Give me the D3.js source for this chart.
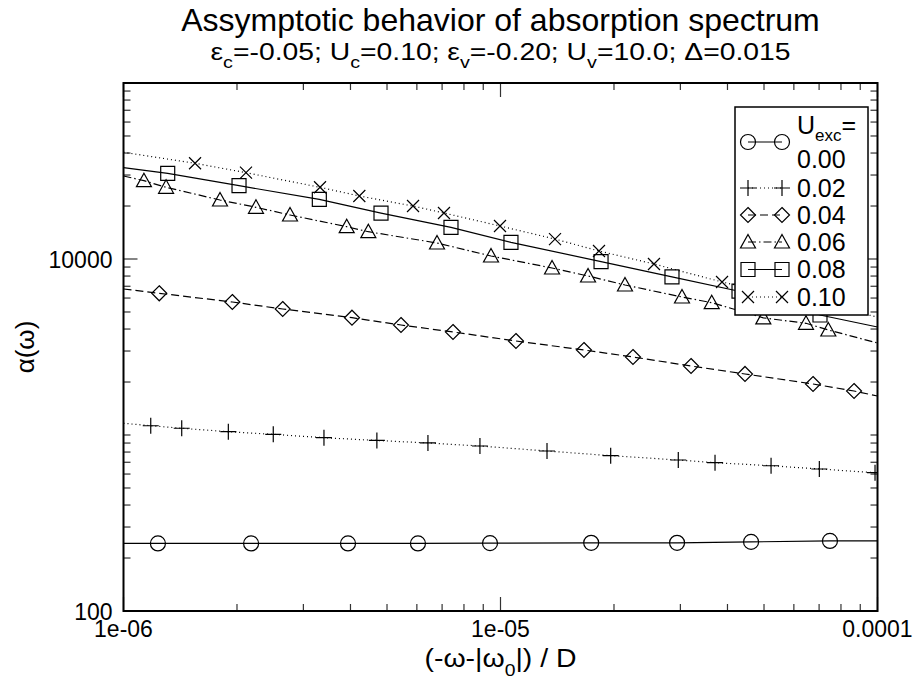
<!DOCTYPE html>
<html>
<head>
<meta charset="utf-8">
<script src="https://cdn.jsdelivr.net/npm/d3@7"></script>
<style>
  body { margin: 0; background: #fff; }
  svg { display: block; font-family: "Liberation Sans", Arial, sans-serif; }
</style>
</head>
<body>
<div id="chart"></div>
<script>
// tick labels
const xTickValues = [1e-6, 1e-5, 1e-4];
const xTickLabels = ["1e-06", "1e-05", "0.0001"];
const yTickValues = [100, 10000];
const yTickLabels = ["100", "10000"];
const legendLabels = ["0.00", "0.02", "0.04", "0.06", "0.08", "0.10"];

// U_exc = 0.00 (first and last points are the line ends, no symbol there)
const x000 = [1e-6, 1.234e-6, 2.18e-6, 3.94e-6, 6.04e-6, 9.38e-6, 1.74e-5, 2.94e-5, 4.62e-5, 7.48e-5, 1e-4];
const y000 = [242, 242, 242, 242, 242, 243, 244, 244, 247, 250, 250];
// U_exc = 0.02
const x002 = [1e-6, 1.181e-6, 1.427e-6, 1.897e-6, 2.496e-6, 3.402e-6, 4.70e-6, 6.42e-6, 8.82e-6, 1.3285e-5, 1.960e-5, 2.962e-5, 3.707e-5, 5.22e-5, 7.01e-5, 9.85e-5, 1e-4];
const y002 = [1166, 1129, 1092, 1044, 1009, 965, 931, 901, 866, 811, 763, 721, 696, 669, 641, 611, 608];
// U_exc = 0.04
const x004 = [1e-6, 1.244e-6, 1.944e-6, 2.644e-6, 4.037e-6, 5.446e-6, 7.482e-6, 1.099e-5, 1.665e-5, 2.246e-5, 3.202e-5, 4.452e-5, 6.745e-5, 8.665e-5, 1e-4];
const y004 = [6753, 6386, 5698, 5198, 4639, 4217, 3848, 3421, 3041, 2775, 2466, 2222, 1949, 1778, 1666];
// U_exc = 0.06
const x006 = [1e-6, 1.133e-6, 1.297e-6, 1.803e-6, 2.246e-6, 2.765e-6, 3.909e-6, 4.461e-6, 6.786e-6, 9.437e-6, 1.370e-5, 1.707e-5, 2.139e-5, 3.030e-5, 3.633e-5, 4.979e-5, 6.462e-5, 7.405e-5, 1e-4];
const y006 = [29620, 27860, 25550, 21640, 19670, 17780, 15260, 14290, 12330, 10400, 8890, 8008, 7118, 6083, 5645, 4630, 4312, 3951, 3332];
// U_exc = 0.08
const x008 = [1e-6, 1.310e-6, 2.025e-6, 3.307e-6, 4.820e-6, 7.390e-6, 1.066e-5, 1.848e-5, 2.850e-5, 4.292e-5, 7.038e-5, 1e-4];
const y008 = [33020, 30690, 26090, 21840, 18240, 15110, 12420, 9670, 7920, 6560, 4806, 4108];
// U_exc = 0.10
const x010 = [1e-6, 1.548e-6, 2.113e-6, 3.321e-6, 4.222e-6, 5.861e-6, 7.081e-6, 9.969e-6, 1.395e-5, 1.825e-5, 2.553e-5, 3.869e-5, 1e-4];
const y010 = [40400, 34980, 30930, 25550, 22800, 20000, 18250, 15400, 12980, 11100, 9367, 7401, 4682];

const seriesX = [x000, x002, x004, x006, x008, x010];
const seriesY = [y000, y002, y004, y006, y008, y010];

// styles
const symbols = ["circle", "plus", "diamond", "triangle", "square", "times"];
const dashes = [null, "1,3", "8,4", "8,3,1.5,3", null, "1,3"];

const width = 921;
const height = 684;
const margin = {top: 83, right: 43.5, bottom: 73, left: 123.5};

const svg = d3.select("#chart").append("svg")
    .attr("width", width)
    .attr("height", height)
    .attr("viewBox", [0, 0, width, height]);

const xScale = d3.scaleLog().domain([1e-6, 1e-4]).range([margin.left, width - margin.right]);
const yScale = d3.scaleLog().domain([100, 100000]).range([height - margin.bottom, margin.top]);

function symbolPath(type) {
    switch (type) {
        case "circle": return "M-7.5,0A7.5,7.5 0 1,0 7.5,0A7.5,7.5 0 1,0 -7.5,0Z";
        case "plus": return "M-8,0H8M0,-8V8";
        case "diamond": return "M0,-7.5L7.5,0L0,7.5L-7.5,0Z";
        case "triangle": return "M0,-7.5L7.5,6L-7.5,6Z";
        case "square": return "M-7,-7H7V7H-7Z";
        case "times": return "M-6,-6L6,6M-6,6L6,-6";
    }
}

svg.append("defs").append("clipPath").attr("id", "plot")
    .append("rect")
    .attr("x", margin.left).attr("y", margin.top)
    .attr("width", width - margin.left - margin.right)
    .attr("height", height - margin.top - margin.bottom);

// ticks, inside on all four sides
const xMinor = xScale.ticks();
const yMinor = yScale.ticks();
const ticks = svg.append("g").attr("stroke", "#333").attr("stroke-width", 1.2);
xMinor.forEach(v => {
    const major = xTickValues.some(t => Math.abs(t / v - 1) < 1e-6);
    const len = major ? 14 : 7;
    const px = xScale(v);
    ticks.append("line").attr("x1", px).attr("x2", px)
        .attr("y1", height - margin.bottom).attr("y2", height - margin.bottom - len);
    ticks.append("line").attr("x1", px).attr("x2", px)
        .attr("y1", margin.top).attr("y2", margin.top + len);
});
yMinor.forEach(v => {
    const major = yTickValues.some(t => Math.abs(t / v - 1) < 1e-6);
    const len = major ? 14 : 7;
    const py = yScale(v);
    ticks.append("line").attr("y1", py).attr("y2", py)
        .attr("x1", margin.left).attr("x2", margin.left + len);
    ticks.append("line").attr("y1", py).attr("y2", py)
        .attr("x1", width - margin.right).attr("x2", width - margin.right - len);
});

// data lines and symbols
const line = d3.line()
    .x(d => xScale(d[0]))
    .y(d => yScale(d[1]));

const plot = svg.append("g").attr("clip-path", "url(#plot)");
seriesX.forEach((xs, i) => {
    const pts = xs.map((x, j) => [x, seriesY[i][j]]);
    plot.append("path")
        .attr("fill", "none")
        .attr("stroke", "#000")
        .attr("stroke-width", 1.2)
        .attr("stroke-dasharray", dashes[i])
        .attr("d", line(pts));
    plot.selectAll(null)
        .data(pts.slice(1, -1))
        .join("path")
        .attr("transform", d => `translate(${xScale(d[0])},${yScale(d[1])})`)
        .attr("d", symbolPath(symbols[i]))
        .attr("fill", "none")
        .attr("stroke", "#000")
        .attr("stroke-width", 1.2);
});

// frame
svg.append("rect")
    .attr("x", margin.left).attr("y", margin.top)
    .attr("width", width - margin.left - margin.right)
    .attr("height", height - margin.top - margin.bottom)
    .attr("fill", "none").attr("stroke", "#000").attr("stroke-width", 2);

// tick labels
svg.append("g").selectAll("text")
    .data(xTickValues)
    .join("text")
    .attr("x", d => xScale(d))
    .attr("y", height - margin.bottom + 26)
    .attr("text-anchor", "middle")
    .attr("font-size", 23)
    .text((d, i) => xTickLabels[i]);

svg.append("g").selectAll("text")
    .data(yTickValues)
    .join("text")
    .attr("x", margin.left - 11)
    .attr("y", d => yScale(d) + 8.5)
    .attr("text-anchor", "end")
    .attr("font-size", 23)
    .text((d, i) => yTickLabels[i]);

// axis titles
const xl = svg.append("text")
    .attr("x", (margin.left + width - margin.right) / 2)
    .attr("y", 667)
    .attr("text-anchor", "middle")
    .attr("font-size", 25)
    .attr("textLength", 152)
    .attr("lengthAdjust", "spacingAndGlyphs");
xl.append("tspan").text("(-ω-|ω");
xl.append("tspan").attr("font-size", 17).attr("dy", 9).text("0");
xl.append("tspan").attr("dy", -9).text("|) / D");

svg.append("text")
    .attr("transform", `translate(34,${(margin.top + height - margin.bottom) / 2}) rotate(-90)`)
    .attr("text-anchor", "middle")
    .attr("font-size", 26)
    .text("α(ω)");

// title and subtitle
svg.append("text")
    .attr("x", (margin.left + width - margin.right) / 2)
    .attr("y", 31)
    .attr("text-anchor", "middle")
    .attr("font-size", 32)
    .text("Assymptotic behavior of absorption spectrum");

const sub = svg.append("text")
    .attr("x", (margin.left + width - margin.right) / 2)
    .attr("y", 60)
    .attr("text-anchor", "middle")
    .attr("font-size", 23)
    .attr("textLength", 580)
    .attr("lengthAdjust", "spacingAndGlyphs");
const subParts = [["ε", "c", "=-0.05; "], ["U", "c", "=0.10; "], ["ε", "v", "=-0.20; "], ["U", "v", "=10.0; "]];
subParts.forEach(p => {
    sub.append("tspan").text(p[0]);
    sub.append("tspan").attr("font-size", 16).attr("dy", 8).text(p[1]);
    sub.append("tspan").attr("dy", -8).text(p[2]);
});
sub.append("tspan").text("Δ=0.015");

// legend
const lg = svg.append("g");
lg.append("rect")
    .attr("x", 735).attr("y", 107).attr("width", 133).attr("height", 208)
    .attr("fill", "#fff").attr("stroke", "#000").attr("stroke-width", 1.5);
const rowY = [142, 188, 215, 242, 269.5, 297];
legendLabels.forEach((lab, i) => {
    const g = lg.append("g");
    g.append("line")
        .attr("x1", 748).attr("x2", 782)
        .attr("y1", rowY[i]).attr("y2", rowY[i])
        .attr("stroke", "#000").attr("stroke-width", 1.2)
        .attr("stroke-dasharray", dashes[i]);
    [748, 782].forEach(px => {
        g.append("path")
            .attr("transform", `translate(${px},${rowY[i]})`)
            .attr("d", symbolPath(symbols[i]))
            .attr("fill", "none").attr("stroke", "#000").attr("stroke-width", 1.2);
    });
    if (i === 0) {
        const t = g.append("text").attr("x", 797).attr("y", 134).attr("font-size", 25);
        t.append("tspan").text("U");
        t.append("tspan").attr("font-size", 17).attr("dy", 7).text("exc");
        t.append("tspan").attr("dy", -7).text("=");
        g.append("text").attr("x", 797).attr("y", 168).attr("font-size", 25).text(lab);
    } else {
        g.append("text").attr("x", 797).attr("y", rowY[i] + 8.5).attr("font-size", 25).text(lab);
    }
});
</script>
</body>
</html>
